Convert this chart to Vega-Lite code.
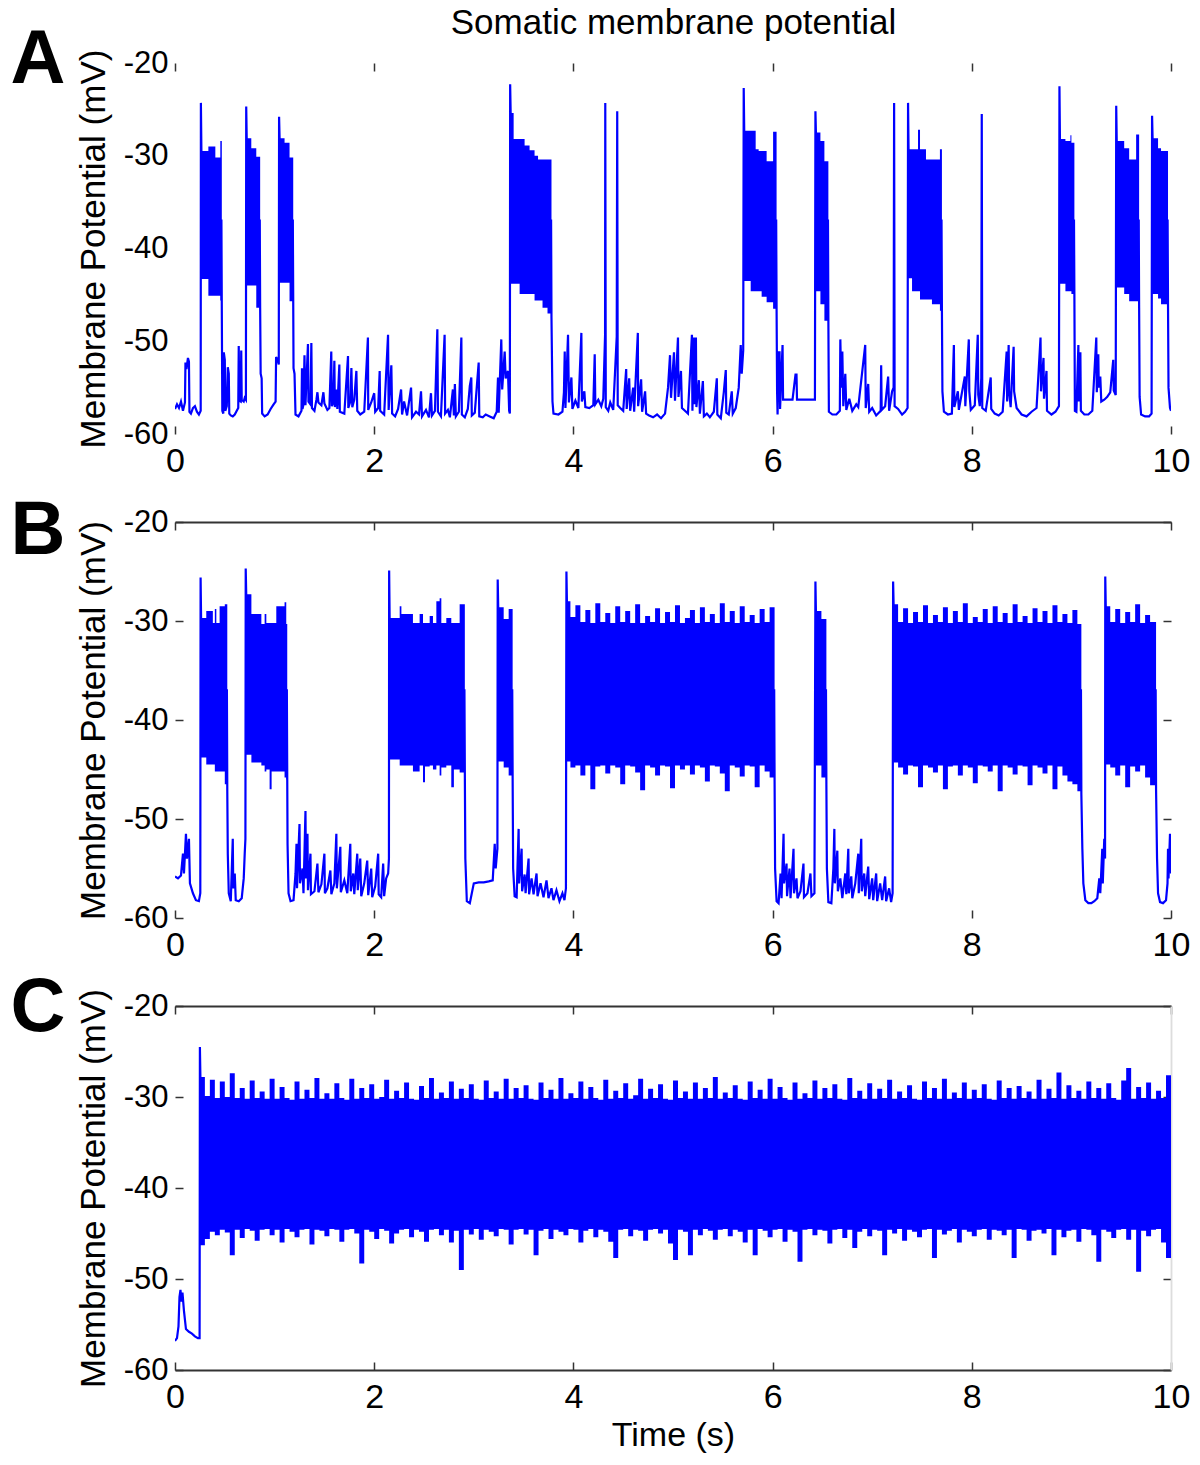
{
"$schema": "https://vega.github.io/schema/vega-lite/v6.json",
"padding": {"left": 10, "top": 5, "right": 5, "bottom": 5},
"background": "white",
"spacing": 88,
"bounds": "flush",
"config": {
 "font": "Liberation Sans",
 "view": {"stroke": null},
 "axis": {"grid": false, "labelFontSize": 31, "labelColor": "#000000", "tickColor": "#333333", "domainColor": "#333333", "tickWidth": 1.5, "domainWidth": 1.8, "labelFlush": false, "labelOverlap": false, "titleFontWeight": "normal", "titleColor": "#000000", "titleFontSize": 35, "labelFont": "Liberation Sans", "titleFont": "Liberation Sans"},
 "axisX": {"labelFontSize": 34},
 "title": {"font": "Liberation Sans", "color": "#000000"}
},
"datasets": {
"tA": [
{"t":0,"v":-57.3},{"t":0.02,"v":-56.8},{"t":0.04,"v":-57.2},{"t":0.06,"v":-56.5},{"t":0.08,"v":-57.5},{"t":0.1,"v":-56.6},{"t":0.105,"v":-52.3},{"t":0.115,"v":-53},{"t":0.13,"v":-51.8},{"t":0.14,"v":-52.2},{"t":0.145,"v":-57.6},{"t":0.16,"v":-57.8},{"t":0.18,"v":-57.2},{"t":0.2,"v":-57},{"t":0.22,"v":-57.6},{"t":0.24,"v":-57.9},{"t":0.258,"v":-57.5},
{"t":0.26,"v":-24.3},{"t":0.265,"v":-29.5},{"t":0.27,"v":-37},{"t":0.466,"v":-37},{"t":0.47,"v":-46.7},
{"t":0.475,"v":-57.5},{"t":0.485,"v":-57.8},{"t":0.49,"v":-51.2},{"t":0.5,"v":-52},{"t":0.505,"v":-57.5},{"t":0.52,"v":-57},{"t":0.53,"v":-52.8},{"t":0.54,"v":-53.5},{"t":0.545,"v":-57.8},{"t":0.56,"v":-58},{"t":0.58,"v":-58.1},{"t":0.6,"v":-57.9},{"t":0.62,"v":-57.5},{"t":0.635,"v":-57.2},{"t":0.64,"v":-50.5},{"t":0.645,"v":-56.4},{"t":0.66,"v":-56.5},{"t":0.665,"v":-51},{"t":0.67,"v":-56.3},{"t":0.69,"v":-56.5},{"t":0.7,"v":-56.1},{"t":0.712,"v":-56.3},
{"t":0.715,"v":-24.7},{"t":0.72,"v":-28.1},{"t":0.725,"v":-37},{"t":0.851,"v":-37},{"t":0.855,"v":-46.4},
{"t":0.86,"v":-53.5},{"t":0.87,"v":-54},{"t":0.875,"v":-57.8},{"t":0.9,"v":-58.1},{"t":0.93,"v":-57.9},{"t":0.96,"v":-57.3},{"t":0.99,"v":-56.8},{"t":1.01,"v":-56.5},{"t":1.015,"v":-51.7},{"t":1.03,"v":-52},{"t":1.042,"v":-52.5},
{"t":1.045,"v":-25.8},{"t":1.05,"v":-28.1},{"t":1.055,"v":-37},{"t":1.183,"v":-37},{"t":1.187,"v":-45.7},
{"t":1.19,"v":-52.9},{"t":1.2,"v":-53.5},{"t":1.21,"v":-57.9},{"t":1.24,"v":-58.1},{"t":1.27,"v":-57.5},{"t":1.275,"v":-52.9},{"t":1.28,"v":-57.3},{"t":1.29,"v":-56.8},{"t":1.3,"v":-51.5},{"t":1.31,"v":-56.9},{"t":1.335,"v":-50.3},{"t":1.34,"v":-56.5},{"t":1.36,"v":-56.8},{"t":1.369,"v":-50.2},{"t":1.375,"v":-57.2},{"t":1.4,"v":-57.5},{"t":1.42,"v":-56.3},{"t":1.43,"v":-55.5},{"t":1.44,"v":-56.6},{"t":1.47,"v":-56.9},{"t":1.49,"v":-55.5},{"t":1.5,"v":-56.7},{"t":1.53,"v":-57.4},{"t":1.55,"v":-57.2},{"t":1.569,"v":-51.1},{"t":1.575,"v":-57},{"t":1.59,"v":-56.6},{"t":1.6,"v":-52.1},{"t":1.605,"v":-57.1},{"t":1.62,"v":-55.2},{"t":1.63,"v":-57.3},{"t":1.65,"v":-52.5},{"t":1.655,"v":-57.6},{"t":1.7,"v":-57.8},{"t":1.737,"v":-51.6},{"t":1.74,"v":-57.2},{"t":1.76,"v":-56.5},{"t":1.771,"v":-52.9},{"t":1.78,"v":-57.1},{"t":1.8,"v":-56.3},{"t":1.821,"v":-53.2},{"t":1.83,"v":-57.5},{"t":1.86,"v":-57.9},{"t":1.9,"v":-57.6},{"t":1.937,"v":-49.6},{"t":1.94,"v":-57.4},{"t":1.97,"v":-56.6},{"t":2,"v":-55.6},{"t":2.01,"v":-57.6},{"t":2.04,"v":-57.2},{"t":2.055,"v":-53.2},{"t":2.06,"v":-57.5},{"t":2.1,"v":-57.9},{"t":2.139,"v":-49.3},{"t":2.145,"v":-57.4},{"t":2.172,"v":-52.6},{"t":2.18,"v":-57.8},{"t":2.21,"v":-58.1},{"t":2.24,"v":-57.3},{"t":2.27,"v":-55.2},{"t":2.28,"v":-57.9},{"t":2.3,"v":-56.5},{"t":2.33,"v":-58},{"t":2.37,"v":-55},{"t":2.38,"v":-58.2},{"t":2.42,"v":-57.6},{"t":2.45,"v":-57.9},{"t":2.47,"v":-55.4},{"t":2.48,"v":-58.1},{"t":2.52,"v":-57.4},{"t":2.55,"v":-58.2},{"t":2.57,"v":-55.6},{"t":2.58,"v":-58},{"t":2.61,"v":-57.5},{"t":2.634,"v":-48.7},{"t":2.64,"v":-57.6},{"t":2.67,"v":-58.1},{"t":2.707,"v":-49.3},{"t":2.712,"v":-57.8},{"t":2.74,"v":-57.4},{"t":2.76,"v":-58.2},{"t":2.79,"v":-55.2},{"t":2.8,"v":-58},{"t":2.81,"v":-54.6},{"t":2.82,"v":-58.1},{"t":2.85,"v":-57.6},{"t":2.875,"v":-49.6},{"t":2.88,"v":-57.9},{"t":2.91,"v":-58.2},{"t":2.94,"v":-57.3},{"t":2.96,"v":-54.8},{"t":2.975,"v":-53.9},{"t":2.98,"v":-58},{"t":3.01,"v":-57.7},{"t":3.049,"v":-52.3},{"t":3.055,"v":-58.1},{"t":3.09,"v":-58.2},{"t":3.12,"v":-57.9},{"t":3.16,"v":-58.1},{"t":3.2,"v":-58.3},{"t":3.23,"v":-57.6},{"t":3.243,"v":-53.9},{"t":3.25,"v":-57.7},{"t":3.276,"v":-49.8},{"t":3.285,"v":-55.2},{"t":3.31,"v":-51.1},{"t":3.32,"v":-54},{"t":3.343,"v":-53.2},{"t":3.355,"v":-57.5},{"t":3.362,"v":-57.8},
{"t":3.365,"v":-22.3},{"t":3.37,"v":-25.4},{"t":3.375,"v":-37},{"t":3.776,"v":-37},{"t":3.78,"v":-47.5},
{"t":3.79,"v":-56.5},{"t":3.8,"v":-57.8},{"t":3.85,"v":-57.9},{"t":3.89,"v":-57.6},{"t":3.905,"v":-55.5},{"t":3.913,"v":-51.1},{"t":3.92,"v":-57.2},{"t":3.946,"v":-49.3},{"t":3.955,"v":-56.6},{"t":3.98,"v":-53.9},{"t":3.99,"v":-57.3},{"t":4.02,"v":-56.4},{"t":4.05,"v":-57.2},{"t":4.08,"v":-49.1},{"t":4.085,"v":-56.5},{"t":4.11,"v":-55.4},{"t":4.12,"v":-57.1},{"t":4.16,"v":-57.2},{"t":4.2,"v":-56.9},{"t":4.214,"v":-51.4},{"t":4.22,"v":-56.8},{"t":4.25,"v":-56.3},{"t":4.28,"v":-57},{"t":4.3,"v":-56.2},{"t":4.318,"v":-49.3},{"t":4.32,"v":-24.3},{"t":4.325,"v":-57.1},{"t":4.35,"v":-57.5},{"t":4.37,"v":-56.6},{"t":4.4,"v":-57.4},{"t":4.435,"v":-49.5},{"t":4.44,"v":-25.2},{"t":4.445,"v":-56.9},{"t":4.47,"v":-57.2},{"t":4.5,"v":-57.5},{"t":4.53,"v":-53},{"t":4.535,"v":-57.3},{"t":4.56,"v":-54},{"t":4.57,"v":-57.5},{"t":4.6,"v":-55},{"t":4.61,"v":-57.6},{"t":4.647,"v":-49.1},{"t":4.65,"v":-57},{"t":4.68,"v":-54.1},{"t":4.69,"v":-57.6},{"t":4.72,"v":-55.4},{"t":4.73,"v":-57.8},{"t":4.76,"v":-58},{"t":4.8,"v":-58.2},{"t":4.84,"v":-57.9},{"t":4.88,"v":-58.3},{"t":4.92,"v":-57.8},{"t":4.95,"v":-55},{"t":4.97,"v":-51.5},{"t":4.98,"v":-56.1},{"t":5.01,"v":-51.2},{"t":5.02,"v":-56.4},{"t":5.05,"v":-49.6},{"t":5.055,"v":-56},{"t":5.08,"v":-53.2},{"t":5.09,"v":-57.2},{"t":5.12,"v":-57.5},{"t":5.15,"v":-57.8},{"t":5.19,"v":-49.3},{"t":5.195,"v":-57.5},{"t":5.21,"v":-49.6},{"t":5.215,"v":-56.8},{"t":5.23,"v":-49.6},{"t":5.235,"v":-57.1},{"t":5.26,"v":-54.2},{"t":5.27,"v":-57.8},{"t":5.3,"v":-54.3},{"t":5.31,"v":-58.1},{"t":5.34,"v":-57.8},{"t":5.37,"v":-58.2},{"t":5.41,"v":-57.6},{"t":5.44,"v":-54},{"t":5.445,"v":-57.9},{"t":5.48,"v":-58.3},{"t":5.51,"v":-55.5},{"t":5.53,"v":-53.1},{"t":5.535,"v":-57.7},{"t":5.56,"v":-57.9},{"t":5.59,"v":-55.4},{"t":5.6,"v":-57.8},{"t":5.63,"v":-57.2},{"t":5.66,"v":-55},{"t":5.68,"v":-50.4},{"t":5.69,"v":-53.5},{"t":5.705,"v":-51},
{"t":5.71,"v":-22.7},{"t":5.715,"v":-27.3},{"t":5.72,"v":-37},{"t":6.036,"v":-37},{"t":6.04,"v":-46.5},
{"t":6.045,"v":-55.4},{"t":6.05,"v":-57.9},{"t":6.06,"v":-51.2},{"t":6.07,"v":-51.2},{"t":6.075,"v":-57.3},{"t":6.1,"v":-50.4},{"t":6.105,"v":-56.3},{"t":6.15,"v":-56.3},{"t":6.2,"v":-56.3},{"t":6.23,"v":-53.6},{"t":6.24,"v":-53.6},{"t":6.245,"v":-56.3},{"t":6.3,"v":-56.3},{"t":6.35,"v":-56.3},{"t":6.4,"v":-56.3},{"t":6.425,"v":-56.3},
{"t":6.43,"v":-25.2},{"t":6.435,"v":-27.5},{"t":6.44,"v":-37},{"t":6.556,"v":-37},{"t":6.56,"v":-47.8},
{"t":6.565,"v":-57.6},{"t":6.6,"v":-57.9},{"t":6.64,"v":-57.9},{"t":6.675,"v":-57.5},{"t":6.68,"v":-49.8},{"t":6.69,"v":-55},{"t":6.7,"v":-51.1},{"t":6.71,"v":-57},{"t":6.73,"v":-53.5},{"t":6.74,"v":-57.4},{"t":6.77,"v":-56.2},{"t":6.8,"v":-57.5},{"t":6.84,"v":-56.8},{"t":6.86,"v":-57.1},{"t":6.93,"v":-50.4},{"t":6.935,"v":-57.2},{"t":6.96,"v":-54.6},{"t":6.97,"v":-57.6},{"t":7,"v":-57.2},{"t":7.04,"v":-58},{"t":7.085,"v":-57.5},{"t":7.09,"v":-52.6},{"t":7.095,"v":-57.4},{"t":7.13,"v":-57},{"t":7.16,"v":-53.8},{"t":7.17,"v":-57.5},{"t":7.2,"v":-55.4},{"t":7.215,"v":-55},{"t":7.22,"v":-24.3},{"t":7.225,"v":-57},{"t":7.26,"v":-57.3},{"t":7.3,"v":-57.9},{"t":7.33,"v":-57.6},{"t":7.355,"v":-57.2},
{"t":7.36,"v":-24.3},{"t":7.365,"v":-29.3},{"t":7.37,"v":-37},{"t":7.696,"v":-37},{"t":7.7,"v":-46.7},
{"t":7.705,"v":-55.4},{"t":7.72,"v":-57.6},{"t":7.76,"v":-57.9},{"t":7.8,"v":-57.8},{"t":7.82,"v":-50.4},{"t":7.825,"v":-57.1},{"t":7.86,"v":-55.4},{"t":7.87,"v":-57.4},{"t":7.93,"v":-53.8},{"t":7.935,"v":-57},{"t":7.97,"v":-49.8},{"t":7.975,"v":-55.4},{"t":7.99,"v":-57.4},{"t":8.03,"v":-56.9},{"t":8.06,"v":-49.3},{"t":8.065,"v":-55.8},{"t":8.08,"v":-57},{"t":8.095,"v":-54},{"t":8.1,"v":-25.5},{"t":8.105,"v":-57.2},{"t":8.14,"v":-57.5},{"t":8.19,"v":-53.9},{"t":8.195,"v":-57.3},{"t":8.23,"v":-57.8},{"t":8.27,"v":-58},{"t":8.31,"v":-57.6},{"t":8.35,"v":-51.1},{"t":8.355,"v":-56.5},{"t":8.37,"v":-50.4},{"t":8.375,"v":-55.4},{"t":8.39,"v":-57.1},{"t":8.42,"v":-50.6},{"t":8.425,"v":-55.4},{"t":8.45,"v":-57.2},{"t":8.5,"v":-57.9},{"t":8.55,"v":-58.1},{"t":8.6,"v":-57.6},{"t":8.65,"v":-57.2},{"t":8.69,"v":-49.6},{"t":8.695,"v":-55.4},{"t":8.72,"v":-51.8},{"t":8.725,"v":-56.2},{"t":8.75,"v":-53.2},{"t":8.755,"v":-57.5},{"t":8.8,"v":-57.9},{"t":8.84,"v":-57.6},{"t":8.875,"v":-57},
{"t":8.88,"v":-22.5},{"t":8.885,"v":-28.2},{"t":8.89,"v":-37},{"t":9.026,"v":-37},{"t":9.03,"v":-44.9},
{"t":9.035,"v":-57.5},{"t":9.05,"v":-57.6},{"t":9.07,"v":-50.4},{"t":9.075,"v":-56.5},{"t":9.09,"v":-51.2},{"t":9.095,"v":-57.5},{"t":9.13,"v":-57.9},{"t":9.17,"v":-57.9},{"t":9.21,"v":-57.5},{"t":9.25,"v":-49.6},{"t":9.255,"v":-55.5},{"t":9.27,"v":-51.4},{"t":9.275,"v":-55},{"t":9.29,"v":-53.8},{"t":9.3,"v":-56.5},{"t":9.33,"v":-56.3},{"t":9.36,"v":-56},{"t":9.39,"v":-55.5},{"t":9.42,"v":-52},{"t":9.425,"v":-55.3},{"t":9.445,"v":-55.8},
{"t":9.45,"v":-24.6},{"t":9.455,"v":-28.4},{"t":9.46,"v":-37},{"t":9.676,"v":-37},{"t":9.68,"v":-46.4},
{"t":9.685,"v":-56},{"t":9.7,"v":-57.9},{"t":9.74,"v":-58.1},{"t":9.78,"v":-58.1},{"t":9.805,"v":-57.8},
{"t":9.81,"v":-25.7},{"t":9.815,"v":-28.1},{"t":9.82,"v":-37},{"t":9.966,"v":-37},{"t":9.97,"v":-46},
{"t":9.975,"v":-55},{"t":9.99,"v":-57.2},{"t":10,"v":-57.5}
],
"eA": [
{"b":1,"t":0.26,"hi":-29.5,"lo":-43.3},{"b":1,"t":0.335,"hi":-29,"lo":-45.1},{"b":1,"t":0.405,"hi":-30.2,"lo":-45.1},{"b":1,"t":0.455,"hi":-28.4,"lo":-45.6},{"b":1,"t":0.47,"hi":-28.4,"lo":-46.7},
{"b":2,"t":0.715,"hi":-28.1,"lo":-44},{"b":2,"t":0.766,"hi":-29.2,"lo":-44},{"b":2,"t":0.816,"hi":-30.1,"lo":-46.4},{"b":2,"t":0.855,"hi":-30.1,"lo":-46.4},
{"b":3,"t":1.045,"hi":-28.1,"lo":-43.7},{"b":3,"t":1.1,"hi":-28.6,"lo":-43.7},{"b":3,"t":1.15,"hi":-30.2,"lo":-45.7},{"b":3,"t":1.187,"hi":-30.2,"lo":-45.7},
{"b":4,"t":3.365,"hi":-25.4,"lo":-43.8},{"b":4,"t":3.4,"hi":-28.2,"lo":-43.8},{"b":4,"t":3.46,"hi":-28.2,"lo":-44.9},{"b":4,"t":3.51,"hi":-28.9,"lo":-44.9},{"b":4,"t":3.56,"hi":-29.4,"lo":-44.9},{"b":4,"t":3.61,"hi":-30,"lo":-45.6},{"b":4,"t":3.645,"hi":-30.4,"lo":-45.6},{"b":4,"t":3.69,"hi":-30.4,"lo":-46.4},{"b":4,"t":3.74,"hi":-30.4,"lo":-47},{"b":4,"t":3.78,"hi":-30.4,"lo":-47.5},
{"b":5,"t":5.71,"hi":-27.3,"lo":-43.5},{"b":5,"t":5.78,"hi":-27.3,"lo":-44.6},{"b":5,"t":5.83,"hi":-29.3,"lo":-44.6},{"b":5,"t":5.86,"hi":-29.5,"lo":-44.6},{"b":5,"t":5.89,"hi":-29.5,"lo":-45.2},{"b":5,"t":5.94,"hi":-30.6,"lo":-45.8},{"b":5,"t":6.005,"hi":-27.4,"lo":-46.5},{"b":5,"t":6.04,"hi":-27.4,"lo":-46.5},
{"b":6,"t":6.43,"hi":-27.5,"lo":-44.6},{"b":6,"t":6.48,"hi":-28.4,"lo":-46},{"b":6,"t":6.52,"hi":-30.6,"lo":-47.8},{"b":6,"t":6.56,"hi":-30.6,"lo":-47.8},
{"b":7,"t":7.36,"hi":-29.3,"lo":-43.2},{"b":7,"t":7.4,"hi":-29.3,"lo":-44.6},{"b":7,"t":7.46,"hi":-27.2,"lo":-44.6},{"b":7,"t":7.48,"hi":-29.3,"lo":-45.5},{"b":7,"t":7.54,"hi":-30.4,"lo":-45.5},{"b":7,"t":7.6,"hi":-30.4,"lo":-46},{"b":7,"t":7.68,"hi":-29.3,"lo":-46.7},{"b":7,"t":7.7,"hi":-29.3,"lo":-46.7},
{"b":8,"t":8.88,"hi":-28.2,"lo":-43.8},{"b":8,"t":8.94,"hi":-28.4,"lo":-44.6},{"b":8,"t":8.99,"hi":-27.8,"lo":-44.6},{"b":8,"t":9,"hi":-28.6,"lo":-44.9},{"b":8,"t":9.03,"hi":-28.6,"lo":-44.9},
{"b":9,"t":9.45,"hi":-28.4,"lo":-44.2},{"b":9,"t":9.53,"hi":-29.2,"lo":-44.9},{"b":9,"t":9.58,"hi":-30.4,"lo":-45.7},{"b":9,"t":9.65,"hi":-27.7,"lo":-45.7},{"b":9,"t":9.68,"hi":-27.7,"lo":-46.4},
{"b":10,"t":9.81,"hi":-28.1,"lo":-44.9},{"b":10,"t":9.87,"hi":-29.2,"lo":-45.4},{"b":10,"t":9.9,"hi":-29.5,"lo":-46},{"b":10,"t":9.97,"hi":-29.5,"lo":-46}
],
"tB": [
{"t":0,"v":-55.8},{"t":0.03,"v":-56},{"t":0.06,"v":-55.7},{"t":0.08,"v":-53.5},{"t":0.09,"v":-55.5},{"t":0.11,"v":-51.5},{"t":0.12,"v":-54},{"t":0.14,"v":-52},{"t":0.15,"v":-56.5},{"t":0.18,"v":-57.5},{"t":0.21,"v":-58.2},{"t":0.24,"v":-58.3},{"t":0.254,"v":-57.5},
{"t":0.257,"v":-25.6},{"t":0.262,"v":-29.7},{"t":0.267,"v":-37},{"t":0.521,"v":-37},{"t":0.525,"v":-47.2},
{"t":0.53,"v":-53.5},{"t":0.54,"v":-57.5},{"t":0.56,"v":-58.3},{"t":0.58,"v":-52},{"t":0.585,"v":-57},{"t":0.6,"v":-55.5},{"t":0.61,"v":-58.2},{"t":0.64,"v":-58.3},{"t":0.67,"v":-58},{"t":0.69,"v":-56},{"t":0.7,"v":-53.5},{"t":0.707,"v":-52},
{"t":0.71,"v":-24.7},{"t":0.715,"v":-27.3},{"t":0.72,"v":-37},{"t":1.123,"v":-37},{"t":1.127,"v":-46},
{"t":1.13,"v":-52.5},{"t":1.14,"v":-57.5},{"t":1.16,"v":-58.3},{"t":1.19,"v":-58.2},{"t":1.21,"v":-55.5},{"t":1.22,"v":-52.5},{"t":1.225,"v":-57},{"t":1.25,"v":-50.5},{"t":1.255,"v":-56.5},{"t":1.28,"v":-55},{"t":1.29,"v":-57.5},{"t":1.31,"v":-49.2},{"t":1.315,"v":-56},{"t":1.33,"v":-51.5},{"t":1.335,"v":-57.2},{"t":1.36,"v":-53.5},{"t":1.365,"v":-57.6},{"t":1.4,"v":-57.3},{"t":1.43,"v":-54.5},{"t":1.44,"v":-57.4},{"t":1.47,"v":-56.6},{"t":1.5,"v":-53.5},{"t":1.505,"v":-57.5},{"t":1.53,"v":-57},{"t":1.56,"v":-55.2},{"t":1.57,"v":-57.6},{"t":1.6,"v":-56.5},{"t":1.62,"v":-51.5},{"t":1.625,"v":-57},{"t":1.66,"v":-52.8},{"t":1.665,"v":-57.4},{"t":1.7,"v":-56.2},{"t":1.73,"v":-57.5},{"t":1.76,"v":-52.5},{"t":1.765,"v":-57.3},{"t":1.79,"v":-55.5},{"t":1.8,"v":-57.6},{"t":1.83,"v":-53.5},{"t":1.835,"v":-57.2},{"t":1.86,"v":-54},{"t":1.87,"v":-57.8},{"t":1.9,"v":-56.5},{"t":1.93,"v":-54.2},{"t":1.94,"v":-57.7},{"t":1.97,"v":-55},{"t":1.98,"v":-57.9},{"t":2.01,"v":-56.8},{"t":2.04,"v":-53.5},{"t":2.045,"v":-57.6},{"t":2.07,"v":-57.9},{"t":2.09,"v":-54.5},{"t":2.1,"v":-57.8},{"t":2.12,"v":-56},{"t":2.14,"v":-55.5},{"t":2.148,"v":-54},
{"t":2.15,"v":-24.9},{"t":2.155,"v":-29.7},{"t":2.16,"v":-37},{"t":2.906,"v":-37},{"t":2.91,"v":-45.3},
{"t":2.915,"v":-54},{"t":2.93,"v":-58.3},{"t":2.96,"v":-58.5},{"t":2.98,"v":-57.5},{"t":3,"v":-56.5},{"t":3.05,"v":-56.4},{"t":3.1,"v":-56.4},{"t":3.15,"v":-56.3},{"t":3.19,"v":-56.2},{"t":3.21,"v":-52.5},{"t":3.22,"v":-55},{"t":3.237,"v":-53},
{"t":3.24,"v":-25.8},{"t":3.245,"v":-28.6},{"t":3.25,"v":-37},{"t":3.386,"v":-37},{"t":3.39,"v":-46},
{"t":3.395,"v":-55},{"t":3.41,"v":-57.8},{"t":3.43,"v":-57.9},{"t":3.45,"v":-51},{"t":3.455,"v":-56.5},{"t":3.48,"v":-53},{"t":3.485,"v":-57.3},{"t":3.51,"v":-55.6},{"t":3.52,"v":-57.5},{"t":3.55,"v":-54},{"t":3.555,"v":-57.6},{"t":3.58,"v":-56},{"t":3.6,"v":-57.6},{"t":3.63,"v":-55.5},{"t":3.64,"v":-57.8},{"t":3.67,"v":-56.5},{"t":3.7,"v":-57.9},{"t":3.73,"v":-56.2},{"t":3.75,"v":-58},{"t":3.78,"v":-57},{"t":3.8,"v":-58.2},{"t":3.83,"v":-57.2},{"t":3.86,"v":-58.3},{"t":3.89,"v":-57.5},{"t":3.91,"v":-58.2},{"t":3.925,"v":-57},
{"t":3.93,"v":-25},{"t":3.935,"v":-28},{"t":3.94,"v":-37},{"t":6.016,"v":-37},{"t":6.02,"v":-46.2},
{"t":6.025,"v":-55},{"t":6.04,"v":-58.3},{"t":6.06,"v":-58.5},{"t":6.08,"v":-55.5},{"t":6.09,"v":-58},{"t":6.11,"v":-51.5},{"t":6.115,"v":-56.5},{"t":6.14,"v":-54.5},{"t":6.145,"v":-57.8},{"t":6.17,"v":-55},{"t":6.18,"v":-58},{"t":6.21,"v":-53},{"t":6.215,"v":-57.5},{"t":6.24,"v":-56},{"t":6.25,"v":-58},{"t":6.28,"v":-57.3},{"t":6.31,"v":-54.5},{"t":6.315,"v":-57.9},{"t":6.35,"v":-57.5},{"t":6.38,"v":-55.5},{"t":6.39,"v":-57.8},{"t":6.42,"v":-57.5},
{"t":6.43,"v":-26},{"t":6.435,"v":-29},{"t":6.44,"v":-37},{"t":6.536,"v":-37},{"t":6.54,"v":-46.5},
{"t":6.545,"v":-55},{"t":6.56,"v":-58.4},{"t":6.59,"v":-58.5},{"t":6.61,"v":-55},{"t":6.62,"v":-51},{"t":6.625,"v":-56.5},{"t":6.65,"v":-53.2},{"t":6.655,"v":-57.3},{"t":6.68,"v":-56},{"t":6.7,"v":-58},{"t":6.73,"v":-55.5},{"t":6.74,"v":-57.6},{"t":6.76,"v":-53},{"t":6.765,"v":-57.5},{"t":6.79,"v":-55.8},{"t":6.8,"v":-58},{"t":6.83,"v":-56.5},{"t":6.86,"v":-53.5},{"t":6.865,"v":-57.5},{"t":6.89,"v":-52},{"t":6.895,"v":-57.3},{"t":6.92,"v":-55.5},{"t":6.93,"v":-57.8},{"t":6.96,"v":-54.8},{"t":6.97,"v":-58.1},{"t":7,"v":-56},{"t":7.01,"v":-58.2},{"t":7.04,"v":-55.5},{"t":7.05,"v":-58.3},{"t":7.08,"v":-56.5},{"t":7.1,"v":-58.2},{"t":7.13,"v":-55.8},{"t":7.14,"v":-58.3},{"t":7.17,"v":-57},{"t":7.19,"v":-58.4},{"t":7.205,"v":-57.5},
{"t":7.21,"v":-26},{"t":7.215,"v":-28.3},{"t":7.22,"v":-37},{"t":9.096,"v":-37},{"t":9.1,"v":-47.5},
{"t":9.11,"v":-53},{"t":9.12,"v":-56.5},{"t":9.14,"v":-58.2},{"t":9.17,"v":-58.5},{"t":9.2,"v":-58.5},{"t":9.23,"v":-58.3},{"t":9.26,"v":-58},{"t":9.28,"v":-56},{"t":9.29,"v":-57.5},{"t":9.31,"v":-53},{"t":9.315,"v":-56.5},{"t":9.33,"v":-52},{"t":9.338,"v":-54},
{"t":9.34,"v":-25.5},{"t":9.345,"v":-28.5},{"t":9.35,"v":-37},{"t":9.846,"v":-37},{"t":9.85,"v":-47},
{"t":9.86,"v":-54},{"t":9.87,"v":-57.5},{"t":9.89,"v":-58.4},{"t":9.92,"v":-58.5},{"t":9.95,"v":-58.2},{"t":9.965,"v":-56.5},{"t":9.97,"v":-53},{"t":9.975,"v":-56},{"t":9.99,"v":-51.5},{"t":10,"v":-55.5}
],
"eB": [
{"b":1,"t":0.257,"hi":-29.7,"lo":-43.8},{"b":1,"t":0.314,"hi":-29,"lo":-44.5},{"b":1,"t":0.38,"hi":-30.2,"lo":-44.5},{"b":1,"t":0.4,"hi":-28.8,"lo":-45.2},{"b":1,"t":0.415,"hi":-30.2,"lo":-45.2},{"b":1,"t":0.448,"hi":-28.5,"lo":-45.2},{"b":1,"t":0.5,"hi":-28.3,"lo":-46.5},{"b":1,"t":0.525,"hi":-28.3,"lo":-47.2},
{"b":2,"t":0.71,"hi":-27.3,"lo":-43.5},{"b":2,"t":0.767,"hi":-29.3,"lo":-44.3},{"b":2,"t":0.867,"hi":-30.3,"lo":-44.6},{"b":2,"t":0.9,"hi":-29.3,"lo":-45.2},{"b":2,"t":0.917,"hi":-30.2,"lo":-45},{"b":2,"t":0.95,"hi":-30.2,"lo":-47},{"b":2,"t":0.97,"hi":-30.2,"lo":-45.2},{"b":2,"t":1.017,"hi":-28.5,"lo":-45.2},{"b":2,"t":1.1,"hi":-28.1,"lo":-45.8},{"b":2,"t":1.117,"hi":-30.3,"lo":-46},{"b":2,"t":1.127,"hi":-30.3,"lo":-46},
{"b":3,"t":2.15,"hi":-29.7,"lo":-44},{"b":3,"t":2.256,"hi":-28.5,"lo":-44.6},{"b":3,"t":2.273,"hi":-29.3,"lo":-44.6},{"b":3,"t":2.389,"hi":-30.2,"lo":-45.2},{"b":3,"t":2.456,"hi":-29.3,"lo":-44.6},{"b":3,"t":2.49,"hi":-30.2,"lo":-46.3},{"b":3,"t":2.51,"hi":-30.2,"lo":-44.7},{"b":3,"t":2.557,"hi":-29.5,"lo":-44.6},{"b":3,"t":2.59,"hi":-30.2,"lo":-45},{"b":3,"t":2.624,"hi":-28,"lo":-44.6},{"b":3,"t":2.657,"hi":-27.7,"lo":-45.6},{"b":3,"t":2.674,"hi":-30.2,"lo":-44.8},{"b":3,"t":2.724,"hi":-29.7,"lo":-44.6},{"b":3,"t":2.774,"hi":-30.2,"lo":-46.8},{"b":3,"t":2.8,"hi":-30.2,"lo":-45},{"b":3,"t":2.858,"hi":-28.3,"lo":-45.3},{"b":3,"t":2.91,"hi":-28.3,"lo":-45.3},
{"b":4,"t":3.24,"hi":-28.6,"lo":-44.2},{"b":4,"t":3.3,"hi":-29.8,"lo":-44.8},{"b":4,"t":3.35,"hi":-28.8,"lo":-45.6},{"b":4,"t":3.39,"hi":-28.8,"lo":-46},
{"b":5,"t":3.93,"hi":-28,"lo":-44.2},{"b":5,"t":3.97,"hi":-29.6,"lo":-44.8},{"b":5,"t":4.02,"hi":-28.4,"lo":-44.6},{"b":5,"t":4.07,"hi":-30.1,"lo":-45.6},{"b":5,"t":4.12,"hi":-28.9,"lo":-44.6},{"b":5,"t":4.17,"hi":-30.2,"lo":-47},{"b":5,"t":4.22,"hi":-28.2,"lo":-44.7},{"b":5,"t":4.27,"hi":-30.1,"lo":-44.6},{"b":5,"t":4.32,"hi":-29.2,"lo":-45.4},{"b":5,"t":4.37,"hi":-30.2,"lo":-44.6},{"b":5,"t":4.42,"hi":-28.5,"lo":-44.8},{"b":5,"t":4.47,"hi":-30.1,"lo":-46.5},{"b":5,"t":4.52,"hi":-29,"lo":-44.6},{"b":5,"t":4.57,"hi":-30.2,"lo":-44.7},{"b":5,"t":4.62,"hi":-28.3,"lo":-45.3},{"b":5,"t":4.67,"hi":-30.2,"lo":-47.1},{"b":5,"t":4.72,"hi":-29.5,"lo":-44.6},{"b":5,"t":4.77,"hi":-30.1,"lo":-44.8},{"b":5,"t":4.82,"hi":-28.7,"lo":-45.6},{"b":5,"t":4.87,"hi":-30.2,"lo":-44.6},{"b":5,"t":4.92,"hi":-29.1,"lo":-44.7},{"b":5,"t":4.97,"hi":-30.1,"lo":-46.9},{"b":5,"t":5.02,"hi":-28.4,"lo":-44.6},{"b":5,"t":5.07,"hi":-30.2,"lo":-45},{"b":5,"t":5.12,"hi":-29.7,"lo":-44.6},{"b":5,"t":5.17,"hi":-28.9,"lo":-45.5},{"b":5,"t":5.22,"hi":-30.2,"lo":-44.6},{"b":5,"t":5.27,"hi":-28.6,"lo":-44.8},{"b":5,"t":5.32,"hi":-30.1,"lo":-46.2},{"b":5,"t":5.37,"hi":-29.3,"lo":-44.6},{"b":5,"t":5.42,"hi":-30.2,"lo":-44.7},{"b":5,"t":5.47,"hi":-28.2,"lo":-45.4},{"b":5,"t":5.52,"hi":-30.1,"lo":-47.2},{"b":5,"t":5.57,"hi":-29,"lo":-44.6},{"b":5,"t":5.62,"hi":-30.2,"lo":-44.8},{"b":5,"t":5.67,"hi":-28.5,"lo":-45.7},{"b":5,"t":5.72,"hi":-30.1,"lo":-44.6},{"b":5,"t":5.77,"hi":-29.4,"lo":-44.7},{"b":5,"t":5.82,"hi":-30.2,"lo":-46.8},{"b":5,"t":5.87,"hi":-28.8,"lo":-44.6},{"b":5,"t":5.92,"hi":-30.1,"lo":-45.2},{"b":5,"t":5.97,"hi":-28.6,"lo":-45.8},{"b":5,"t":6.02,"hi":-28.6,"lo":-46.2},
{"b":6,"t":6.43,"hi":-29,"lo":-44.6},{"b":6,"t":6.49,"hi":-29.8,"lo":-45.8},{"b":6,"t":6.54,"hi":-29.8,"lo":-46.5},
{"b":7,"t":7.21,"hi":-28.3,"lo":-44.3},{"b":7,"t":7.26,"hi":-30.1,"lo":-44.8},{"b":7,"t":7.31,"hi":-28.7,"lo":-45.5},{"b":7,"t":7.36,"hi":-30.2,"lo":-44.6},{"b":7,"t":7.41,"hi":-29.1,"lo":-44.7},{"b":7,"t":7.46,"hi":-30.1,"lo":-46.8},{"b":7,"t":7.51,"hi":-28.4,"lo":-44.6},{"b":7,"t":7.56,"hi":-30.2,"lo":-44.8},{"b":7,"t":7.61,"hi":-29.4,"lo":-45.3},{"b":7,"t":7.66,"hi":-30.1,"lo":-44.6},{"b":7,"t":7.71,"hi":-28.6,"lo":-47},{"b":7,"t":7.76,"hi":-30.2,"lo":-44.7},{"b":7,"t":7.81,"hi":-29,"lo":-44.6},{"b":7,"t":7.86,"hi":-30.1,"lo":-45.6},{"b":7,"t":7.91,"hi":-28.2,"lo":-44.6},{"b":7,"t":7.96,"hi":-30.2,"lo":-44.8},{"b":7,"t":8.01,"hi":-29.6,"lo":-46.4},{"b":7,"t":8.06,"hi":-30.1,"lo":-44.6},{"b":7,"t":8.11,"hi":-28.8,"lo":-44.7},{"b":7,"t":8.16,"hi":-30.2,"lo":-45.2},{"b":7,"t":8.21,"hi":-28.5,"lo":-44.6},{"b":7,"t":8.26,"hi":-30.1,"lo":-47.2},{"b":7,"t":8.31,"hi":-29.2,"lo":-44.6},{"b":7,"t":8.36,"hi":-30.2,"lo":-44.8},{"b":7,"t":8.41,"hi":-28.3,"lo":-45.5},{"b":7,"t":8.46,"hi":-30.1,"lo":-44.6},{"b":7,"t":8.51,"hi":-29.5,"lo":-44.7},{"b":7,"t":8.56,"hi":-30.2,"lo":-46.6},{"b":7,"t":8.61,"hi":-28.7,"lo":-44.6},{"b":7,"t":8.66,"hi":-30.1,"lo":-44.8},{"b":7,"t":8.71,"hi":-29,"lo":-45.4},{"b":7,"t":8.76,"hi":-30.2,"lo":-44.6},{"b":7,"t":8.81,"hi":-28.4,"lo":-47},{"b":7,"t":8.86,"hi":-30.1,"lo":-44.7},{"b":7,"t":8.91,"hi":-29.3,"lo":-45.6},{"b":7,"t":8.96,"hi":-30.2,"lo":-46.2},{"b":7,"t":9.01,"hi":-28.9,"lo":-46.5},{"b":7,"t":9.06,"hi":-30.3,"lo":-47.2},{"b":7,"t":9.1,"hi":-30.3,"lo":-47.5},
{"b":8,"t":9.34,"hi":-28.5,"lo":-44.5},{"b":8,"t":9.39,"hi":-30.1,"lo":-44.8},{"b":8,"t":9.44,"hi":-28.8,"lo":-45.6},{"b":8,"t":9.49,"hi":-30.2,"lo":-44.6},{"b":8,"t":9.54,"hi":-29.1,"lo":-46.8},{"b":8,"t":9.59,"hi":-30.1,"lo":-44.7},{"b":8,"t":9.64,"hi":-28.3,"lo":-45.2},{"b":8,"t":9.69,"hi":-30.2,"lo":-44.6},{"b":8,"t":9.74,"hi":-29.4,"lo":-45.8},{"b":8,"t":9.79,"hi":-30.1,"lo":-46.6},{"b":8,"t":9.85,"hi":-30.1,"lo":-47}
],
"tC": [
{"t":0,"v":-56.8},{"t":0.02,"v":-56.5},{"t":0.035,"v":-55.2},{"t":0.045,"v":-52},{"t":0.055,"v":-51.2},{"t":0.065,"v":-52.5},{"t":0.075,"v":-51.5},{"t":0.09,"v":-53.5},{"t":0.11,"v":-55.5},{"t":0.14,"v":-55.8},{"t":0.17,"v":-56},{"t":0.2,"v":-56.3},{"t":0.23,"v":-56.5},{"t":0.247,"v":-56.5},{"t":0.25,"v":-24.5},{"t":0.255,"v":-27.8},{"t":0.26,"v":-37},{"t":0.3,"v":-37}
],
"eC": [
{"b":1,"t":0.25,"hi":-27.8,"lo":-46.3},{"b":1,"t":0.3,"hi":-29.9,"lo":-45.6},{"b":1,"t":0.35,"hi":-28.1,"lo":-44.8},{"b":1,"t":0.4,"hi":-30.1,"lo":-45.2},{"b":1,"t":0.45,"hi":-28.3,"lo":-44.6},{"b":1,"t":0.5,"hi":-30,"lo":-44.9},{"b":1,"t":0.55,"hi":-27.4,"lo":-47.4},{"b":1,"t":0.6,"hi":-30.1,"lo":-44.6},{"b":1,"t":0.65,"hi":-29,"lo":-45.5},{"b":1,"t":0.7,"hi":-30.2,"lo":-44.5},{"b":1,"t":0.75,"hi":-28.2,"lo":-44.7},{"b":1,"t":0.8,"hi":-30.1,"lo":-45.8},{"b":1,"t":0.85,"hi":-29.4,"lo":-44.6},{"b":1,"t":0.9,"hi":-30.2,"lo":-44.5},{"b":1,"t":0.95,"hi":-28,"lo":-45.2},{"b":1,"t":1,"hi":-30.2,"lo":-44.6},
{"b":1,"t":1.05,"hi":-28.9,"lo":-46},{"b":1,"t":1.1,"hi":-30.1,"lo":-44.5},{"b":1,"t":1.15,"hi":-30.3,"lo":-44.8},{"b":1,"t":1.2,"hi":-28.3,"lo":-45.4},{"b":1,"t":1.25,"hi":-30.2,"lo":-44.6},{"b":1,"t":1.3,"hi":-29.2,"lo":-44.5},{"b":1,"t":1.35,"hi":-30.1,"lo":-46.2},{"b":1,"t":1.4,"hi":-27.9,"lo":-44.6},{"b":1,"t":1.45,"hi":-30.2,"lo":-44.7},{"b":1,"t":1.5,"hi":-29.6,"lo":-45.3},{"b":1,"t":1.55,"hi":-30.2,"lo":-44.5},{"b":1,"t":1.6,"hi":-28.5,"lo":-44.6},{"b":1,"t":1.65,"hi":-30.1,"lo":-45.9},{"b":1,"t":1.7,"hi":-30.3,"lo":-44.6},{"b":1,"t":1.75,"hi":-28,"lo":-44.5},{"b":1,"t":1.8,"hi":-30.2,"lo":-45},{"b":1,"t":1.85,"hi":-29,"lo":-48.3},{"b":1,"t":1.9,"hi":-30.1,"lo":-44.6},{"b":1,"t":1.95,"hi":-28.6,"lo":-44.8},{"b":1,"t":2,"hi":-30.2,"lo":-45.6},
{"b":1,"t":2.05,"hi":-30,"lo":-44.5},{"b":1,"t":2.1,"hi":-28.1,"lo":-44.7},{"b":1,"t":2.15,"hi":-30.2,"lo":-46.1},{"b":1,"t":2.2,"hi":-29.3,"lo":-45},{"b":1,"t":2.25,"hi":-30.1,"lo":-44.6},{"b":1,"t":2.3,"hi":-28.4,"lo":-44.5},{"b":1,"t":2.35,"hi":-30.2,"lo":-45.4},{"b":1,"t":2.4,"hi":-30.3,"lo":-44.6},{"b":1,"t":2.45,"hi":-28.8,"lo":-44.8},{"b":1,"t":2.5,"hi":-30.1,"lo":-45.9},{"b":1,"t":2.55,"hi":-27.9,"lo":-44.6},{"b":1,"t":2.6,"hi":-30.2,"lo":-44.5},{"b":1,"t":2.65,"hi":-29.5,"lo":-45.2},{"b":1,"t":2.7,"hi":-30.1,"lo":-44.6},{"b":1,"t":2.75,"hi":-28.3,"lo":-46},{"b":1,"t":2.8,"hi":-30.2,"lo":-44.7},{"b":1,"t":2.85,"hi":-29.1,"lo":-49},{"b":1,"t":2.9,"hi":-30.1,"lo":-44.6},{"b":1,"t":2.95,"hi":-28.6,"lo":-45.1},{"b":1,"t":3,"hi":-30.2,"lo":-44.5},
{"b":1,"t":3.05,"hi":-30.3,"lo":-45.7},{"b":1,"t":3.1,"hi":-28.2,"lo":-44.6},{"b":1,"t":3.15,"hi":-30.1,"lo":-44.8},{"b":1,"t":3.2,"hi":-29.4,"lo":-45.3},{"b":1,"t":3.25,"hi":-30.2,"lo":-44.5},{"b":1,"t":3.3,"hi":-28,"lo":-44.6},{"b":1,"t":3.35,"hi":-30.2,"lo":-46.2},{"b":1,"t":3.4,"hi":-29,"lo":-44.6},{"b":1,"t":3.45,"hi":-30.1,"lo":-44.5},{"b":1,"t":3.5,"hi":-28.7,"lo":-45.1},{"b":1,"t":3.55,"hi":-30.2,"lo":-44.6},{"b":1,"t":3.6,"hi":-30.3,"lo":-47.4},{"b":1,"t":3.65,"hi":-28.4,"lo":-44.7},{"b":1,"t":3.7,"hi":-30.1,"lo":-44.5},{"b":1,"t":3.75,"hi":-29.2,"lo":-45.6},{"b":1,"t":3.8,"hi":-30.2,"lo":-44.6},{"b":1,"t":3.85,"hi":-27.9,"lo":-44.8},{"b":1,"t":3.9,"hi":-30.2,"lo":-45.2},{"b":1,"t":3.95,"hi":-29.6,"lo":-44.5},{"b":1,"t":4,"hi":-30.1,"lo":-44.6},
{"b":1,"t":4.05,"hi":-28.3,"lo":-46},{"b":1,"t":4.1,"hi":-30.2,"lo":-44.7},{"b":1,"t":4.15,"hi":-28.9,"lo":-44.5},{"b":1,"t":4.2,"hi":-30.1,"lo":-45.4},{"b":1,"t":4.25,"hi":-30.3,"lo":-44.6},{"b":1,"t":4.3,"hi":-28.1,"lo":-44.8},{"b":1,"t":4.35,"hi":-30.2,"lo":-45.9},{"b":1,"t":4.4,"hi":-29.3,"lo":-47.7},{"b":1,"t":4.45,"hi":-30.1,"lo":-44.6},{"b":1,"t":4.5,"hi":-28.5,"lo":-44.5},{"b":1,"t":4.55,"hi":-30.2,"lo":-45.3},{"b":1,"t":4.6,"hi":-29.8,"lo":-44.6},{"b":1,"t":4.65,"hi":-28,"lo":-44.7},{"b":1,"t":4.7,"hi":-30.2,"lo":-45.8},{"b":1,"t":4.75,"hi":-29.1,"lo":-44.6},{"b":1,"t":4.8,"hi":-30.1,"lo":-44.5},{"b":1,"t":4.85,"hi":-28.6,"lo":-45},{"b":1,"t":4.9,"hi":-30.2,"lo":-44.6},{"b":1,"t":4.95,"hi":-30.3,"lo":-46.1},{"b":1,"t":5,"hi":-28.2,"lo":-47.9},
{"b":1,"t":5.05,"hi":-30.1,"lo":-44.6},{"b":1,"t":5.1,"hi":-29.4,"lo":-44.8},{"b":1,"t":5.15,"hi":-30.2,"lo":-47.4},{"b":1,"t":5.2,"hi":-28.4,"lo":-44.6},{"b":1,"t":5.25,"hi":-30.2,"lo":-45.2},{"b":1,"t":5.3,"hi":-29,"lo":-44.5},{"b":1,"t":5.35,"hi":-30.1,"lo":-44.7},{"b":1,"t":5.4,"hi":-27.8,"lo":-45.7},{"b":1,"t":5.45,"hi":-30.2,"lo":-44.6},{"b":1,"t":5.5,"hi":-29.5,"lo":-44.5},{"b":1,"t":5.55,"hi":-30.1,"lo":-45.3},{"b":1,"t":5.6,"hi":-28.7,"lo":-44.6},{"b":1,"t":5.65,"hi":-30.2,"lo":-44.8},{"b":1,"t":5.7,"hi":-30.3,"lo":-46},{"b":1,"t":5.75,"hi":-28.3,"lo":-44.6},{"b":1,"t":5.8,"hi":-30.1,"lo":-47.4},{"b":1,"t":5.85,"hi":-29.2,"lo":-44.5},{"b":1,"t":5.9,"hi":-30.2,"lo":-44.7},{"b":1,"t":5.95,"hi":-28,"lo":-45.4},{"b":1,"t":6,"hi":-30.2,"lo":-44.6},
{"b":1,"t":6.05,"hi":-28.9,"lo":-44.5},{"b":1,"t":6.1,"hi":-30.1,"lo":-45.9},{"b":1,"t":6.15,"hi":-30.3,"lo":-44.6},{"b":1,"t":6.2,"hi":-28.4,"lo":-44.8},{"b":1,"t":6.25,"hi":-30.2,"lo":-48.1},{"b":1,"t":6.3,"hi":-29.6,"lo":-44.6},{"b":1,"t":6.35,"hi":-30.1,"lo":-44.5},{"b":1,"t":6.4,"hi":-28.2,"lo":-45.2},{"b":1,"t":6.45,"hi":-30.2,"lo":-44.6},{"b":1,"t":6.5,"hi":-29,"lo":-44.7},{"b":1,"t":6.55,"hi":-30.1,"lo":-46.1},{"b":1,"t":6.6,"hi":-28.6,"lo":-44.6},{"b":1,"t":6.65,"hi":-30.2,"lo":-44.5},{"b":1,"t":6.7,"hi":-30.3,"lo":-45.5},{"b":1,"t":6.75,"hi":-27.9,"lo":-44.6},{"b":1,"t":6.8,"hi":-30.1,"lo":-46.6},{"b":1,"t":6.85,"hi":-29.3,"lo":-44.8},{"b":1,"t":6.9,"hi":-30.2,"lo":-44.5},{"b":1,"t":6.95,"hi":-28.5,"lo":-45.3},{"b":1,"t":7,"hi":-30.2,"lo":-44.6},
{"b":1,"t":7.05,"hi":-29.1,"lo":-44.7},{"b":1,"t":7.1,"hi":-30.1,"lo":-47.4},{"b":1,"t":7.15,"hi":-28.1,"lo":-44.6},{"b":1,"t":7.2,"hi":-30.2,"lo":-45},{"b":1,"t":7.25,"hi":-29.4,"lo":-44.5},{"b":1,"t":7.3,"hi":-30.1,"lo":-45.8},{"b":1,"t":7.35,"hi":-28.7,"lo":-44.6},{"b":1,"t":7.4,"hi":-30.2,"lo":-44.8},{"b":1,"t":7.45,"hi":-30.3,"lo":-45.4},{"b":1,"t":7.5,"hi":-28.3,"lo":-44.6},{"b":1,"t":7.55,"hi":-30.1,"lo":-44.5},{"b":1,"t":7.6,"hi":-29,"lo":-47.7},{"b":1,"t":7.65,"hi":-30.2,"lo":-44.6},{"b":1,"t":7.7,"hi":-28,"lo":-45.1},{"b":1,"t":7.75,"hi":-30.2,"lo":-44.7},{"b":1,"t":7.8,"hi":-29.5,"lo":-44.5},{"b":1,"t":7.85,"hi":-30.1,"lo":-46},{"b":1,"t":7.9,"hi":-28.4,"lo":-44.6},{"b":1,"t":7.95,"hi":-30.2,"lo":-44.8},{"b":1,"t":8,"hi":-29.2,"lo":-45.3},
{"b":1,"t":8.05,"hi":-30.1,"lo":-44.6},{"b":1,"t":8.1,"hi":-28.6,"lo":-44.5},{"b":1,"t":8.15,"hi":-30.2,"lo":-45.7},{"b":1,"t":8.2,"hi":-30.3,"lo":-44.6},{"b":1,"t":8.25,"hi":-28.2,"lo":-44.7},{"b":1,"t":8.3,"hi":-30.1,"lo":-45.2},{"b":1,"t":8.35,"hi":-29,"lo":-44.6},{"b":1,"t":8.4,"hi":-30.2,"lo":-47.7},{"b":1,"t":8.45,"hi":-28.8,"lo":-44.5},{"b":1,"t":8.5,"hi":-30.1,"lo":-44.6},{"b":1,"t":8.55,"hi":-29.4,"lo":-45.8},{"b":1,"t":8.6,"hi":-30.2,"lo":-44.7},{"b":1,"t":8.65,"hi":-28.1,"lo":-44.6},{"b":1,"t":8.7,"hi":-30.2,"lo":-45},{"b":1,"t":8.75,"hi":-29.1,"lo":-44.5},{"b":1,"t":8.8,"hi":-30.1,"lo":-47.4},{"b":1,"t":8.85,"hi":-27.3,"lo":-44.6},{"b":1,"t":8.9,"hi":-30.2,"lo":-45.4},{"b":1,"t":8.95,"hi":-28.7,"lo":-44.7},{"b":1,"t":9,"hi":-30.1,"lo":-44.6},
{"b":1,"t":9.05,"hi":-29.3,"lo":-45.9},{"b":1,"t":9.1,"hi":-30.2,"lo":-44.5},{"b":1,"t":9.15,"hi":-28.3,"lo":-44.6},{"b":1,"t":9.2,"hi":-30.1,"lo":-45.2},{"b":1,"t":9.25,"hi":-29,"lo":-48.1},{"b":1,"t":9.3,"hi":-30.2,"lo":-44.6},{"b":1,"t":9.35,"hi":-28.5,"lo":-44.8},{"b":1,"t":9.4,"hi":-30.1,"lo":-45.5},{"b":1,"t":9.45,"hi":-30.3,"lo":-44.6},{"b":1,"t":9.5,"hi":-28.2,"lo":-44.5},{"b":1,"t":9.55,"hi":-26.8,"lo":-45.7},{"b":1,"t":9.6,"hi":-30.2,"lo":-44.6},{"b":1,"t":9.65,"hi":-28.9,"lo":-49.2},{"b":1,"t":9.7,"hi":-30.1,"lo":-44.7},{"b":1,"t":9.75,"hi":-28.4,"lo":-45.3},{"b":1,"t":9.8,"hi":-30.2,"lo":-44.6},{"b":1,"t":9.85,"hi":-29.3,"lo":-44.5},{"b":1,"t":9.9,"hi":-30.1,"lo":-46},{"b":1,"t":9.95,"hi":-27.6,"lo":-47.7},{"b":1,"t":10,"hi":-28,"lo":-45}
]
},
"vconcat": [
{
 "width": 996, "height": 371,
 "title": {"text": "A", "orient": "left", "anchor": "end", "angle": 0, "align": "right", "baseline": "alphabetic", "fontSize": 76, "fontWeight": "bold", "offset": -44, "dy": 78},
 "layer": [
  {"data": {"name": "eA"}, "mark": {"type": "area", "interpolate": "step-after", "color": "#0000ff", "clip": true},
   "encoding": {
    "x": {"field": "t", "type": "quantitative", "scale": {"domain": [0, 10], "nice": false, "zero": false}, "axis": {"orient": "bottom", "values": [0, 2, 4, 6, 8, 10], "domain": false, "tickSize": -8, "labelPadding": 18, "title": null}},
    "y": {"field": "hi", "type": "quantitative", "scale": {"domain": [-60, -20], "nice": false, "zero": false}, "axis": {"orient": "left", "values": [-60, -50, -40, -30, -20], "labelExpr": "replace(datum.label, '\u2212', '-')", "domain": false, "ticks": false, "labelPadding": 7, "title": "Membrane Potential (mV)", "titlePadding": 12}},
    "y2": {"field": "lo"},
    "detail": {"field": "b"}}},
  {"data": {"name": "tA"}, "mark": {"type": "line", "color": "#0000ff", "strokeWidth": 2.2, "clip": true},
   "encoding": {
    "x": {"field": "t", "type": "quantitative", "axis": {"orient": "top", "values": [0, 2, 4, 6, 8, 10], "domain": false, "tickSize": -8, "labels": false, "title": "Somatic membrane potential", "titlePadding": 22}},
    "y": {"field": "v", "type": "quantitative", "axis": null}}}
 ],
 "resolve": {"axis": {"x": "independent", "y": "independent"}}
},
{
 "width": 996, "height": 396,
 "title": {"text": "B", "orient": "left", "anchor": "end", "angle": 0, "align": "right", "baseline": "alphabetic", "fontSize": 76, "fontWeight": "bold", "offset": -44, "dy": 48},
 "layer": [
  {"data": {"name": "eB"}, "mark": {"type": "area", "interpolate": "step-after", "color": "#0000ff", "clip": true},
   "encoding": {
    "x": {"field": "t", "type": "quantitative", "scale": {"domain": [0, 10], "nice": false, "zero": false}, "axis": {"orient": "bottom", "values": [0, 2, 4, 6, 8, 10], "domain": false, "tickSize": -8, "labelPadding": 18, "title": null}},
    "y": {"field": "hi", "type": "quantitative", "scale": {"domain": [-60, -20], "nice": false, "zero": false}, "axis": {"orient": "left", "values": [-60, -50, -40, -30, -20], "labelExpr": "replace(datum.label, '\u2212', '-')", "domain": false, "tickSize": -8, "labelPadding": 15, "title": "Membrane Potential (mV)", "titlePadding": 12}},
    "y2": {"field": "lo"},
    "detail": {"field": "b"}}},
  {"data": {"name": "tB"}, "mark": {"type": "line", "color": "#0000ff", "strokeWidth": 2.2, "clip": true},
   "encoding": {
    "x": {"field": "t", "type": "quantitative", "axis": {"orient": "top", "values": [0, 2, 4, 6, 8, 10], "domain": true, "tickSize": -8, "labels": false, "title": null}},
    "y": {"field": "v", "type": "quantitative", "axis": {"orient": "right", "values": [-60, -50, -40, -30, -20], "domain": false, "tickSize": -8, "labels": false, "title": null}}}}
 ],
 "resolve": {"axis": {"x": "independent", "y": "independent"}}
},
{
 "width": 996, "height": 364,
 "title": {"text": "C", "orient": "left", "anchor": "end", "angle": 0, "align": "right", "baseline": "alphabetic", "fontSize": 76, "fontWeight": "bold", "offset": -44, "dy": 42},
 "layer": [
  {"data": {"name": "eC"}, "mark": {"type": "area", "interpolate": "step-after", "color": "#0000ff", "clip": true},
   "encoding": {
    "x": {"field": "t", "type": "quantitative", "scale": {"domain": [0, 10], "nice": false, "zero": false}, "axis": {"orient": "bottom", "values": [0, 2, 4, 6, 8, 10], "domain": true, "tickSize": -8, "labelPadding": 18, "title": "Time (s)", "titleFontSize": 34, "titlePadding": 4}},
    "y": {"field": "hi", "type": "quantitative", "scale": {"domain": [-60, -20], "nice": false, "zero": false}, "axis": {"orient": "left", "values": [-60, -50, -40, -30, -20], "labelExpr": "replace(datum.label, '\u2212', '-')", "domain": false, "tickSize": -8, "labelPadding": 15, "title": "Membrane Potential (mV)", "titlePadding": 12}},
    "y2": {"field": "lo"},
    "detail": {"field": "b"}}},
  {"data": {"name": "tC"}, "mark": {"type": "line", "color": "#0000ff", "strokeWidth": 2.2, "clip": true},
   "encoding": {
    "x": {"field": "t", "type": "quantitative", "axis": {"orient": "top", "values": [0, 2, 4, 6, 8, 10], "domain": true, "tickSize": -8, "labels": false, "title": null}},
    "y": {"field": "v", "type": "quantitative", "axis": {"orient": "right", "values": [-60, -50, -40, -30, -20], "domain": true, "domainColor": "#dddddd", "tickSize": -8, "labels": false, "title": null}}}}
 ],
 "resolve": {"axis": {"x": "independent", "y": "independent"}}
}
]
}
